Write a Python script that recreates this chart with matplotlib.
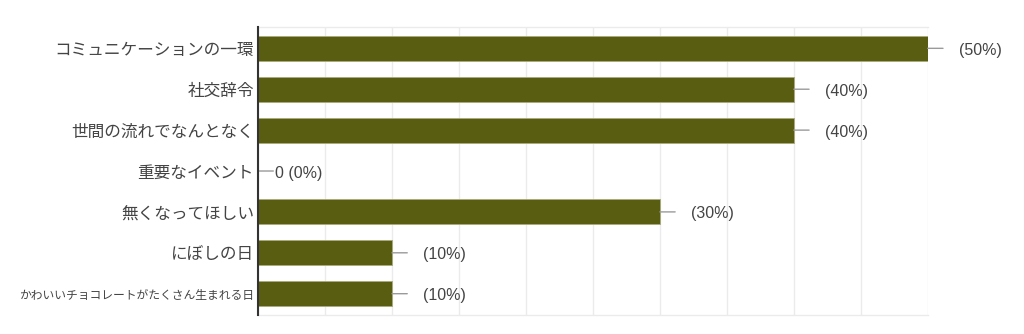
import matplotlib
matplotlib.use("Agg")
import matplotlib.pyplot as plt
import numpy as np

plt.rcParams["font.family"] = ["Noto Sans CJK JP", "DejaVu Sans"]

categories = [
    "コミュニケーションの一環",
    "社交辞令",
    "世間の流れでなんとなく",
    "重要なイベント",
    "無くなってほしい",
    "にぼしの日",
    "かわいいチョコレートがたくさん生まれる日",
]
counts = [5, 4, 4, 0, 3, 1, 1]
percents = [50, 40, 40, 0, 30, 10, 10]

BAR = "#595d12"
TEXT = "#444444"
GRID = "#ebebeb"

fig = plt.figure(figsize=(10.24, 3.34), dpi=100)
ax = fig.add_axes([0.252, 0.057, 0.654, 0.862])

y = np.arange(len(categories))
ax.barh(y, counts, height=0.61, color=BAR, edgecolor="#a9ab7a", linewidth=0.6, zorder=3)

for i, (c, p) in enumerate(zip(counts, percents)):
    ax.annotate("", xy=(c, i), xytext=(11, 0), textcoords="offset points",
                arrowprops=dict(arrowstyle="-", color="#9a9a9a", lw=1.0,
                                shrinkA=0, shrinkB=0), zorder=4)
    if c == 0:
        ax.annotate(f"{c} ({p}%)", xy=(c, i), xytext=(12, -1.5), textcoords="offset points",
                    va="center", ha="left", fontsize=11.5, color=TEXT,
                    family=["Liberation Sans", "DejaVu Sans"])
    else:
        ax.annotate(f"({p}%)", xy=(c, i), xytext=(22.5, -1.5), textcoords="offset points",
                    va="center", ha="left", fontsize=11.5, color=TEXT,
                    family=["Liberation Sans", "DejaVu Sans"])

ax.set_xlim(0, 5)
ax.set_ylim(6.52, -0.52)
ax.set_xticks(np.arange(0, 5.01, 0.5))
ax.set_xticklabels([])
ax.tick_params(axis="x", length=0)
ax.grid(axis="x", color=GRID, linewidth=1.0, zorder=0)

ax.set_yticks(y)
ax.set_yticklabels(categories, color=TEXT, fontsize=12)
ax.get_yticklabels()[-1].set_fontsize(8.5)
ax.tick_params(axis="y", length=0, pad=3)

for s in ["top", "bottom", "right"]:
    ax.spines[s].set_color(GRID)
    ax.spines[s].set_linewidth(1.0)
ax.spines["right"].set_visible(False)
ax.spines["left"].set_color("#333333")
ax.spines["left"].set_linewidth(1.5)
ax.spines["left"].set_zorder(5)

fig.savefig("out.png", dpi=100)
